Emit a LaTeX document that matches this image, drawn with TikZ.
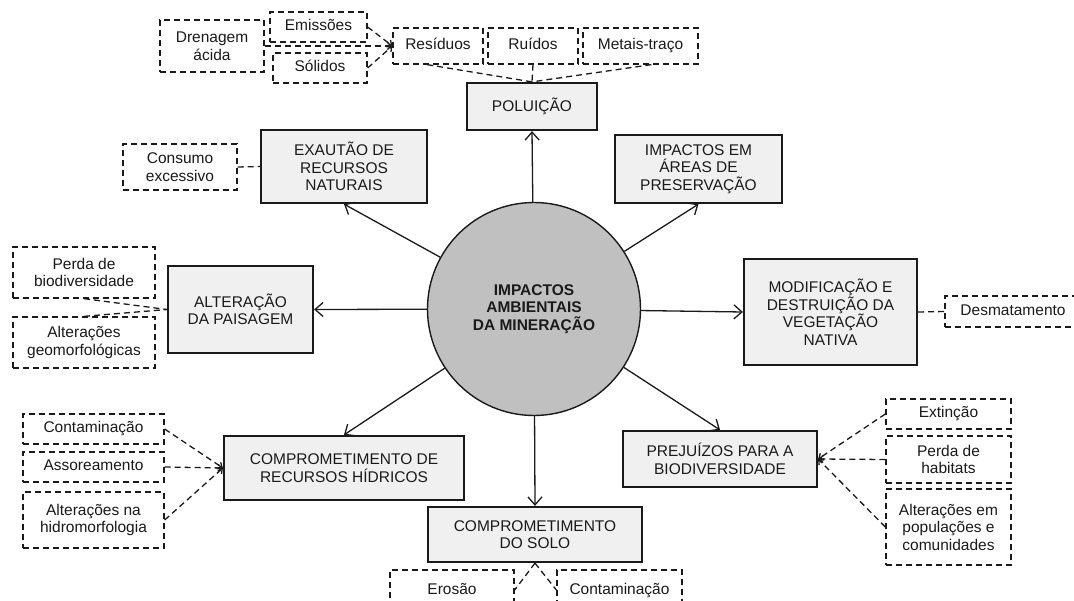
\documentclass[tikz,border=0pt]{standalone}
\usepackage{fontspec}
\setmainfont{Liberation Sans}
\usetikzlibrary{arrows.meta}
\definecolor{boxfill}{HTML}{F0F0F0}
\definecolor{hubfill}{HTML}{C0C0C0}
\definecolor{ink}{HTML}{1A1A1A}

\tikzset{
  every node/.style={font=\fontsize{15.5}{17.5}\selectfont, text=ink, align=center, inner sep=0pt},
  impact/.style={rectangle, draw=ink, line width=2.2pt, fill=boxfill},
  detail/.style={rectangle, draw=ink, line width=1.3pt, dash pattern=on 6pt off 4pt},
  oneline/.style={text height=11.5pt, text depth=3.5pt},
  hub/.style={circle, draw=ink, line width=1.4pt, fill=hubfill, minimum size=213pt,
    font=\bfseries\fontsize{15.5}{17.5}\selectfont},
  link/.style={draw=ink, line width=1.3pt, -{Straight Barb[length=8pt,width=14pt]}},
  feed/.style={draw=ink, line width=1.3pt, dash pattern=on 6pt off 4pt},
  feedin/.style={feed, -{Straight Barb[length=4pt,width=7pt]}},
}

\begin{document}
\begin{tikzpicture}[x=1pt,y=-1pt]
\useasboundingbox (0,0) rectangle (1074,601);

% central hub
\node[hub] (hub) at (534,309) {IMPACTOS\\AMBIENTAIS\\DA MINERAÇÃO};

% impact categories
\node[impact, minimum width=130pt, minimum height=47pt] (pol) at (532,106.5) {POLUIÇÃO};
\node[impact, minimum width=166pt, minimum height=73pt] (exa) at (344,166.5) {EXAUTÃO DE\\RECURSOS\\NATURAIS};
\node[impact, minimum width=167pt, minimum height=68pt] (pre) at (698.5,169) {IMPACTOS EM\\ÁREAS DE\\PRESERVAÇÃO};
\node[impact, minimum width=173pt, minimum height=106pt] (veg) at (830.5,312) {MODIFICAÇÃO E\\DESTRUIÇÃO DA\\VEGETAÇÃO\\NATIVA};
\node[impact, minimum width=145pt, minimum height=87pt] (pai) at (240.5,309.5) {ALTERAÇÃO\\DA PAISAGEM};
\node[impact, minimum width=240pt, minimum height=64pt] (hid) at (344,468) {COMPROMETIMENTO DE\\RECURSOS HÍDRICOS};
\node[impact, minimum width=194pt, minimum height=56pt] (bio) at (720,459) {PREJUÍZOS PARA A\\BIODIVERSIDADE};
\node[impact, minimum width=214pt, minimum height=55pt] (solo) at (535,534.5) {COMPROMETIMENTO\\DO SOLO};

% pollution details
\node[detail, minimum width=104pt, minimum height=52pt] (dren) at (212,46) {Drenagem\\ácida};
\node[detail, oneline, minimum width=97pt, minimum height=30pt] (emi) at (318.5,27) {Emissões};
\node[detail, oneline, minimum width=94pt, minimum height=30pt] (sol) at (320,68) {Sólidos};
\node[detail, oneline, minimum width=90pt, minimum height=36pt] (res) at (438,46) {Resíduos};
\node[detail, oneline, minimum width=90pt, minimum height=36pt] (rui) at (533,46) {Ruídos};
\node[detail, oneline, minimum width=115pt, minimum height=36pt] (met) at (640.5,46) {Metais-traço};

% other details
\node[detail, minimum width=114pt, minimum height=46pt] (con) at (180,167) {Consumo\\excessivo};
\node[detail, oneline, minimum width=136pt, minimum height=31pt] (des) at (1013,311.5) {Desmatamento};
\node[detail, minimum width=142pt, minimum height=51pt] (pbio) at (84,272.5) {Perda de\\biodiversidade};
\node[detail, minimum width=142pt, minimum height=51pt] (geo) at (84,342.5) {Alterações\\geomorfológicas};
\node[detail, oneline, minimum width=141pt, minimum height=30pt] (cont) at (93.5,429) {Contaminação};
\node[detail, oneline, minimum width=141pt, minimum height=30pt] (asso) at (93.5,467) {Assoreamento};
\node[detail, minimum width=141pt, minimum height=56pt] (hmor) at (93.5,520) {Alterações na\\hidromorfologia};
\node[detail, oneline, minimum width=125pt, minimum height=30pt] (ext) at (948.5,414) {Extinção};
\node[detail, minimum width=125pt, minimum height=47pt] (hab) at (948.5,459.5) {Perda de\\habitats};
\node[detail, minimum width=125pt, minimum height=76pt] (popc) at (948.5,527) {Alterações em\\populações e\\comunidades};
\node[detail, oneline, minimum width=124pt, minimum height=40pt] (ero) at (452,590) {Erosão};
\node[detail, oneline, minimum width=125pt, minimum height=40pt] (csol) at (619.5,590) {Contaminação};

% hub to impacts
\draw[link] (hub) -- (pol.south);
\draw[link] (hub) -- (exa.south);
\draw[link] (hub) -- (pre.south);
\draw[link] (hub) -- (veg.west);
\draw[link] (hub) -- (pai.east);
\draw[link] (hub) -- (hid.north);
\draw[link] (hub) -- (bio.north);
\draw[link] (hub) -- (solo.north);

% detail links
\draw[feedin] (emi.east) -- (res.west);
\draw[feedin] (dren.east) -- (res.west);
\draw[feedin] (sol.east) -- (res.west);
\draw[feed] (res.-120) -- (pol.north);
\draw[feed] (rui.south) -- (pol.north);
\draw[feed] (met.-60) -- (pol.north);
\draw[feed] (con.east) -- (exa.west);
\draw[feed] (veg.east) -- (des.west);
\draw[feed] (pbio.south) -- (pai.west);
\draw[feed] (geo.north) -- (pai.west);
\draw[feedin] (cont.east) -- (hid.west);
\draw[feedin] (asso.east) -- (hid.west);
\draw[feedin] (hmor.east) -- (hid.west);
\draw[feedin] (ext.west) -- (bio.east);
\draw[feedin] (hab.west) -- (bio.east);
\draw[feedin] (popc.west) -- (bio.east);
\draw[feed] (solo.south) -- (ero.east);
\draw[feed] (solo.south) -- (csol.west);
\end{tikzpicture}
\end{document}
